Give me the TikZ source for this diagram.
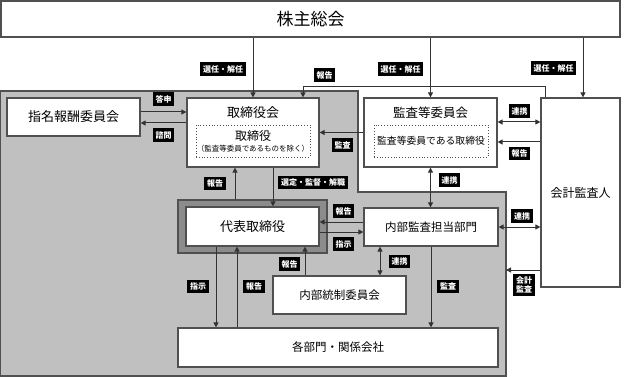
\documentclass[tikz,border=0pt]{standalone}
\usepackage{fontspec}
\setmainfont{Noto Sans CJK JP}
\usetikzlibrary{arrows.meta}
\definecolor{zone}{RGB}{192,192,192}
\definecolor{frame}{RGB}{140,140,140}
\definecolor{edge}{RGB}{80,80,80}

\begin{document}
\begin{tikzpicture}[x=1pt,y=-1pt,>={Triangle[length=5pt,width=5pt]},
 box/.style={draw=edge,line width=1.2pt,fill=white,inner sep=0pt},
 sub/.style={draw=edge,dotted,line width=0.8pt,fill=white,inner sep=0pt},
 lbl/.style={fill=black,text=white,inner sep=2.8pt,font=\fontsize{8}{9}\selectfont\bfseries},
 conn/.style={line width=1pt,draw=black!80}]
\useasboundingbox (0,0) rectangle (624,377);
% gray area of the company
\filldraw[fill=zone,draw=edge,line width=1.5pt] (0,91) -- (358,91) -- (358,192) -- (506,192) -- (506,376) -- (0,376) -- cycle;
\coordinate (grayedge) at (506,270);

\node[box,minimum width=619,minimum height=36,font=\fontsize{17}{20}\selectfont] (kabu) at (310.5,19) {株主総会};
\node[box,minimum width=133,minimum height=38,font=\fontsize{13}{15}\selectfont] (shimei) at (73.5,117) {指名報酬委員会};
\node[box,minimum width=132,minimum height=69] (torikai) at (253,132.5) {};
\node[font=\fontsize{13}{15}\selectfont] (torikaitxt) at (253,113) {取締役会};
\node[sub,minimum width=114,minimum height=32,align=center] (tori) at (253,141)
 {{\fontsize{12}{13}\selectfont 取締役}\\[-1pt]{\fontsize{7.5}{9}\selectfont （監査等委員であるものを除く）}};
\node[box,minimum width=133,minimum height=69] (kansa) at (430.5,132.5) {};
\node[font=\fontsize{12.5}{15}\selectfont] (kansatxt) at (430.5,113) {監査等委員会};
\node[sub,minimum width=114,minimum height=32,font=\fontsize{9.8}{12}\selectfont] (kansatori) at (431,141) {監査等委員である取締役};
\node[box,minimum width=79,minimum height=189,font=\fontsize{12}{14}\selectfont] (kaikei) at (580.5,192.5) {会計監査人};
\node[draw=edge,line width=1.2pt,fill=frame,minimum width=149,minimum height=53] (daihyoframe) at (252.5,226.5) {};
\node[box,minimum width=133,minimum height=39,font=\fontsize{13}{15}\selectfont] (daihyo) at (252.5,226.5) {代表取締役};
\node[box,minimum width=134,minimum height=38,font=\fontsize{11.5}{14}\selectfont] (naibu) at (431,227) {内部監査担当部門};
\node[box,minimum width=133,minimum height=38,font=\fontsize{11.5}{14}\selectfont] (tousei) at (339.5,295) {内部統制委員会};
\node[box,minimum width=320,minimum height=39,font=\fontsize{11.5}{14}\selectfont] (kakubu) at (338,347.5) {各部門・関係会社};

% from the shareholders
\draw[conn,->] (kabu.south -| torikai.north) -- (torikai.north);
\draw[conn,->] (kabu.south -| kansa.north) -- (kansa.north);
\draw[conn,->] ([xshift=2.5pt]kabu.south -| kaikei.north) -- ([xshift=2.5pt]kaikei.north);
\draw[conn,->] ([xshift=-35.5pt]kaikei.north) -- ++(0,-11) -| ([xshift=50pt]torikai.north);
\node[lbl] (l1) at (223,69) {選任・解任};
\node[lbl] (l2) at (400.5,69) {選任・解任};
\node[lbl] (l3) at (553.5,68) {選任・解任};
\node[lbl] (l4) at (324.5,75) {報告};

% board
\draw[conn,->] ([yshift=5pt]shimei.east) -- ([yshift=5pt]shimei.east -| torikai.west);
\draw[conn,->] ([yshift=-6pt]shimei.east -| torikai.west) -- ([yshift=-6pt]shimei.east);
\draw[conn,->] (kansa.west) -- (kansa.west -| torikai.east);
\draw[conn,<->] ([yshift=10.5pt]kansa.east) -- ([yshift=10.5pt]kansa.east -| kaikei.west);
\draw[conn,->] ([yshift=-9.5pt]kansa.east -| kaikei.west) -- ([yshift=-9.5pt]kansa.east);
\node[lbl] (l5) at (163.5,99) {答申};
\node[lbl] (l6) at (163.5,135) {諮問};
\node[lbl] (l7) at (342.5,145) {監査};
\node[lbl] (l8) at (519.5,111) {連携};
\node[lbl] (l9) at (519.5,153.5) {報告};

% representative director
\draw[conn,->] ([xshift=-18pt]torikai.south |- daihyoframe.north) -- ([xshift=-18pt]torikai.south);
\draw[conn,->] ([xshift=20pt]torikai.south) -- ([xshift=20pt]torikai.south |- daihyo.north);
\draw[conn,<->] (kansa.south) -- (kansa.south |- naibu.north);
\draw[conn,->] ([yshift=5pt]naibu.west) -- ([yshift=5pt]naibu.west -| daihyo.east);
\draw[conn,->] ([yshift=-5pt]naibu.west -| daihyo.east) -- ([yshift=-5pt]naibu.west);
\draw[conn,<->] (naibu.east) -- (naibu.east -| kaikei.west);
\draw[conn,->] (grayedge -| kaikei.west) -- (grayedge);
\node[lbl] (l10) at (215,183.5) {報告};
\node[lbl] (l11) at (313,182.5) {選定・監督・解職};
\node[lbl] (l12) at (449.5,180) {連携};
\node[lbl] (l13) at (343.5,211) {報告};
\node[lbl] (l14) at (343.5,244) {指示};
\node[lbl] (l15) at (522,216) {連携};
\node[lbl,align=center,font=\fontsize{8}{9.5}\selectfont\bfseries] (l16) at (524,285) {会計\\監査};

% departments
\draw[conn,<->] ([xshift=-51pt]naibu.south) -- ([xshift=-51pt]naibu.south |- tousei.north);
\draw[conn,->] (naibu.south) -- (naibu.south |- kakubu.north);
\draw[conn,->] ([xshift=-36.5pt]daihyo.south) -- ([xshift=-36.5pt]daihyo.south |- kakubu.north);
\draw[conn,->] ([xshift=-15.5pt]daihyo.south |- kakubu.north) -- ([xshift=-15.5pt]daihyo.south);
\draw[conn,->] ([xshift=52.5pt]daihyo.south |- tousei.north) -- ([xshift=52.5pt]daihyo.south);
\node[lbl] (l17) at (399.5,261.5) {連携};
\node[lbl] (l18) at (289.5,264) {報告};
\node[lbl] (l19) at (198,286.5) {指示};
\node[lbl] (l20) at (254,286.5) {報告};
\node[lbl] (l21) at (448,286.5) {監査};
\end{tikzpicture}
\end{document}
